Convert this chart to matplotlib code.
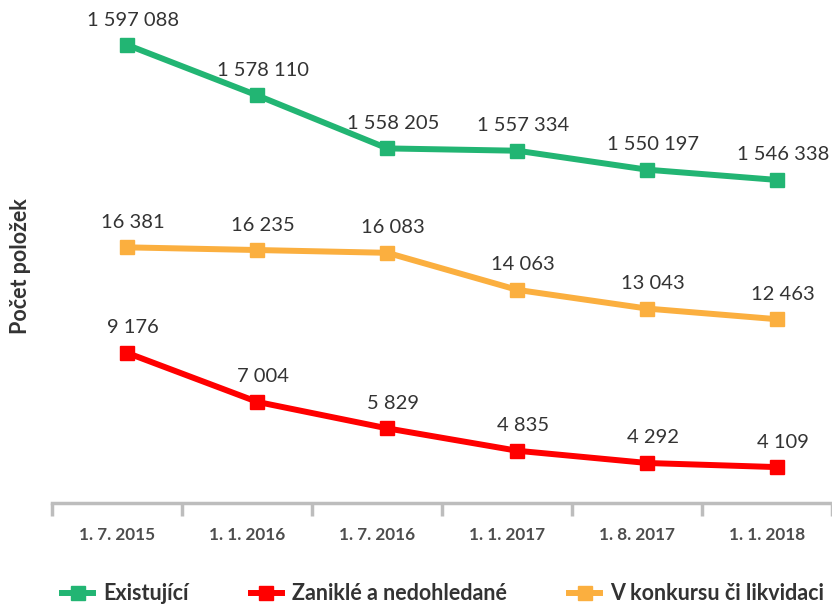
import matplotlib
matplotlib.use("Agg")
import matplotlib.pyplot as plt
from matplotlib.lines import Line2D

plt.rcParams['font.family'] = ['Lato', 'DejaVu Sans']

categories = ["1. 7. 2015", "1. 1. 2016", "1. 7. 2016", "1. 1. 2017", "1. 8. 2017", "1. 1. 2018"]
existujici = [1597088, 1578110, 1558205, 1557334, 1550197, 1546338]
konkurs = [16381, 16235, 16083, 14063, 13043, 12463]
zanikle = [9176, 7004, 5829, 4835, 4292, 4109]

series_names = ["Existující", "Zaniklé a nedohledané", "V konkursu či likvidaci"]
GREEN = "#22B573"
RED = "#FF0000"
ORANGE = "#FBAF3F"

fig = plt.figure(figsize=(8.32, 6.06), dpi=100)
ax = fig.add_axes([52/832, 1-503/606, 1-52/832, 503/606])
n = len(categories)
ax.set_xlim(-0.5, n - 0.5)
ax.set_ylim(0, 1)
for s in ['top', 'right', 'left']:
    ax.spines[s].set_visible(False)
ax.spines['bottom'].set_color('#BDBDBD')
ax.spines['bottom'].set_linewidth(2.5)
ax.set_yticks([])
ax.set_xticks(range(n))
ax.set_xticklabels(categories, fontsize=12.3, fontweight='bold', color='#4D4D4D')
ax.tick_params(axis='x', which='major', length=0, pad=17)
ax.set_xticks([i - 0.5 for i in range(n + 1)], minor=True)
ax.tick_params(axis='x', which='minor', length=9, width=2.5, color='#BDBDBD')
ax.set_ylabel("Počet položek", fontsize=15.5, fontweight='bold', color='#333333')
ax.yaxis.set_label_coords(-0.027, 0.47)

xoff = 0.08
xs = [i + xoff for i in range(n)]

def draw(values, color, ylim):
    a = ax.twinx()
    a.set_ylim(*ylim)
    a.set_xlim(-0.5, n - 0.5)
    a.axis('off')
    a.plot(xs, values, color=color, lw=4.3, marker='s', ms=10, solid_joinstyle='miter', clip_on=False)
    for x, v in zip(xs, values):
        a.annotate(f"{v:,}".replace(",", " "), (x, v), xytext=(4, 18), textcoords='offset points',
                   ha='center', va='center', fontsize=14.5, color='#333333')
    return a

draw(existujici, GREEN, (1424880, 1614008))
draw(konkurs, ORANGE, (2448, 29862))
draw(zanikle, RED, (2516, 24849))

handles = [Line2D([], [], color=c, lw=4.3, marker='s', ms=10) for c in (GREEN, RED, ORANGE)]
fig.legend(handles, series_names, loc='center left', bbox_to_anchor=(62/832, 1-594/606), ncol=3, frameon=False,
           prop={'size': 15.5, 'weight': 'bold'}, labelcolor='#333333',
           handlelength=1.45, handletextpad=0.45, columnspacing=2.9, borderpad=0, borderaxespad=0)

fig.savefig("out.png", dpi=100)
